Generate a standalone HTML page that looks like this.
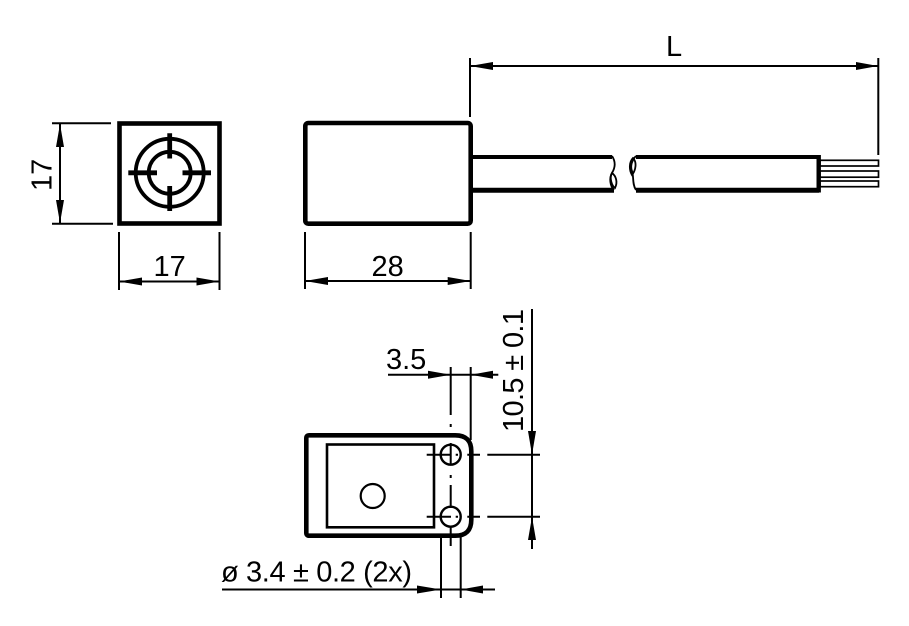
<!DOCTYPE html>
<html>
<head>
<meta charset="utf-8">
<style>
html,body{margin:0;padding:0;background:#fff;width:909px;height:626px;overflow:hidden}
svg{display:block}
text{font-family:"Liberation Sans",sans-serif;font-size:29px;fill:#000}
</style>
</head>
<body>
<svg width="909" height="626" viewBox="0 0 909 626" xmlns="http://www.w3.org/2000/svg">
<rect width="909" height="626" fill="#fff"/>

<!-- front view -->
<g fill="none" stroke="#000">
<rect x="119.5" y="123.5" width="100" height="100" stroke-width="4.6"/>
<circle cx="169.7" cy="172.8" r="34" stroke-width="3.8"/>
<circle cx="169.7" cy="172.8" r="21" stroke-width="3.8"/>
<path d="M128.3 172.8H157M182.5 172.8H211M169.7 133.3V158.5M169.7 186V211" stroke-width="4.8"/>
</g>

<!-- thin dimension lines -->
<g fill="none" stroke="#000" stroke-width="2">
<path d="M52 123.3H111M52 223.7H113M60 124V223"/>
<path d="M119 232V290M219.5 232V290M119 281.5H219.5"/>
<path d="M305 232V289M470.7 232V289M305 281H470.7"/>
<path d="M470 58V117M878.3 58V155M470 66H878"/>
<path d="M388 374.7H498.3M450.7 367V415M470.7 367V440"/>
<path d="M532 309V549M487.3 454.7H540M487.3 516.7H540"/>
<path d="M222 589.5H495M441 525V598M460.7 525V598"/>
</g>

<!-- arrowheads -->
<g fill="#000" stroke="none">
<path d="M60 124L56 147H64Z"/>
<path d="M60 223L56 200H64Z"/>
<path d="M119 281.5L142 277.5V285.5Z"/>
<path d="M219.5 281.5L196.5 277.5V285.5Z"/>
<path d="M305 281L328 277V285Z"/>
<path d="M470.7 281L447.7 277V285Z"/>
<path d="M470 66L493 62V70Z"/>
<path d="M878 66L856 62V70Z"/>
<path d="M450.7 374.7L428 370.7V378.7Z"/>
<path d="M470.7 374.7L493 370.7V378.7Z"/>
<path d="M532 454.7L528 431H536Z"/>
<path d="M532 516.7L528 540H536Z"/>
<path d="M441 589.5L417 585.5V593.5Z"/>
<path d="M460.7 589.5L483 585.5V593.5Z"/>
</g>

<!-- side view body + cable -->
<g fill="none" stroke="#000">
<rect x="305.3" y="123" width="165.4" height="100.7" rx="3" stroke-width="4.6"/>
<path d="M472 157H612M636 157H819" stroke-width="4"/>
<path d="M472 190.3H614M636 190.3H819" stroke-width="5"/>
<path d="M818.7 155V192.5" stroke-width="4.4"/>
<g stroke-width="1.8">
<path d="M612 156C616 162 615 168 612 173C609 178 610 186 614 190"/>
<path d="M612 173C616 176 618 182 615 188C612 186 609 178 612 173Z"/>
<path d="M636 156C632 160 630 166 632 171C634 177 632 184 636 190"/>
<path d="M633 158C637 162 636 170 632 175C629 170 629 162 633 158Z"/>
</g>
<g stroke-width="1.7">
<rect x="820" y="160.3" width="58.5" height="5.7"/>
<rect x="820" y="171" width="58.5" height="6.2"/>
<rect x="820" y="181" width="58.5" height="5.7"/>
</g>
</g>

<!-- lower view -->
<g fill="none" stroke="#000">
<path d="M309.3 435.3H455.3Q471.3 435.3 471.3 451.3V519.7Q471.3 535.7 455.3 535.7H309.3Q306.3 535.7 306.3 532.7V438.3Q306.3 435.3 309.3 435.3Z" fill="#fff" stroke-width="4.6"/>
<rect x="327" y="444.5" width="107" height="82.8" stroke-width="2.6"/>
<circle cx="372.7" cy="496" r="12" stroke-width="2.2"/>
<circle cx="450.7" cy="454.7" r="10" stroke-width="2.4" fill="#fff"/>
<circle cx="450.7" cy="516.7" r="10" stroke-width="2.4" fill="#fff"/>
<g stroke-width="2">
<path d="M426.7 454.7H451M467.3 454.7H480M426.7 516.7H451M467.3 516.7H480"/>
<path d="M450.7 443V465M450.7 485V508M450.7 526.7V546"/>
<path d="M455.7 454.7H458M455.7 516.7H458"/>
<path d="M450.7 424V427M450.7 475V478"/>
</g>
</g>

<!-- labels -->
<text x="666" y="56">L</text>
<text x="153.5" y="276">17</text>
<text x="371.5" y="276">28</text>
<text x="0" y="0" transform="translate(51.7 191) rotate(-90)">17</text>
<text x="386" y="369">3.5</text>
<text x="0" y="0" transform="translate(523 432) rotate(-90)" textLength="123">10.5 ± 0.1</text>
<text x="221" y="581.7" textLength="191">ø 3.4 ± 0.2 (2x)</text>
</svg>
</body>
</html>
